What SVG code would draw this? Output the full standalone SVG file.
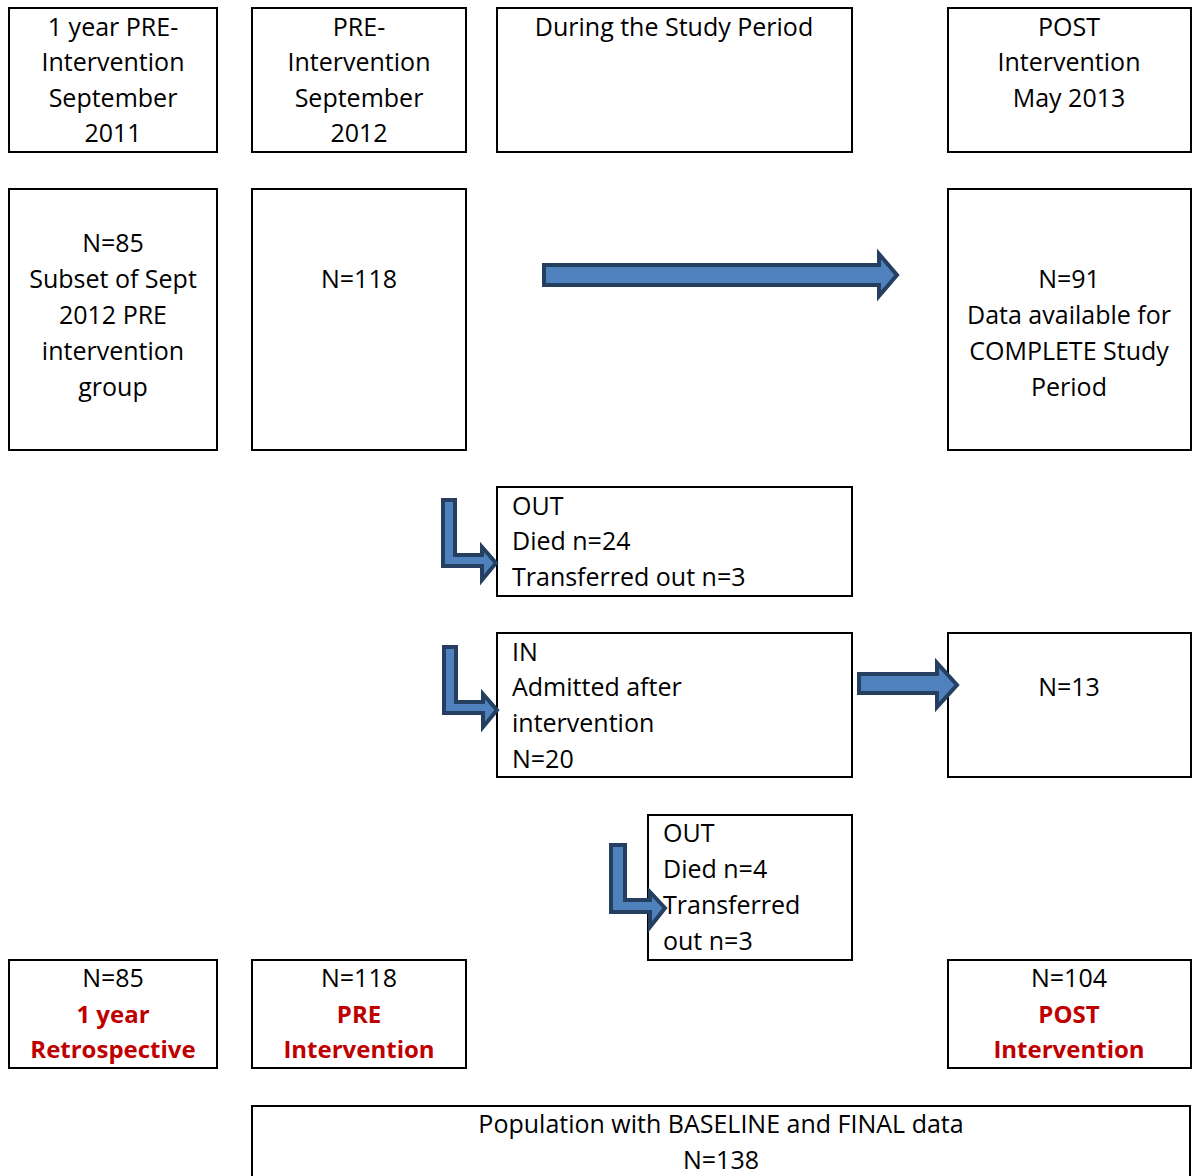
<svg xmlns="http://www.w3.org/2000/svg" width="1192" height="1176" viewBox="0 0 1192 1176">
<style>
.box{fill:#fff;stroke:#000;stroke-width:2}
text{font-family:"Open Sans","Liberation Sans",Arial,sans-serif;font-size:25px;fill:#000}
.c{text-anchor:middle}
.r{fill:#C00000;font-weight:bold;font-size:24px}
.arr{fill:#4F81BD;stroke:#243F60;stroke-width:4;stroke-linejoin:miter}
</style>
<rect width="1192" height="1176" fill="#fff"/>
<g id="h1"><rect class="box" x="9" y="8" width="208" height="144"/>
<text class="c" x="113" y="36">1 year PRE-</text><text class="c" x="113" y="71">Intervention</text><text class="c" x="113" y="107">September</text><text class="c" x="113" y="142">2011</text></g>
<g id="h2"><rect class="box" x="252" y="8" width="214" height="144"/>
<text class="c" x="359" y="36">PRE-</text><text class="c" x="359" y="71">Intervention</text><text class="c" x="359" y="107">September</text><text class="c" x="359" y="142">2012</text></g>
<g id="h3"><rect class="box" x="497" y="8" width="355" height="144"/>
<text class="c" x="674" y="36">During the Study Period</text></g>
<g id="h4"><rect class="box" x="948" y="8" width="243" height="144"/>
<text class="c" x="1069" y="36">POST</text><text class="c" x="1069" y="71">Intervention</text><text class="c" x="1069" y="107">May 2013</text></g>

<g id="n85"><rect class="box" x="9" y="189" width="208" height="261"/>
<text class="c" x="113" y="252">N=85</text><text class="c" x="113" y="288">Subset of Sept</text><text class="c" x="113" y="324">2012 PRE</text><text class="c" x="113" y="360">intervention</text><text class="c" x="113" y="396">group</text></g>
<g id="n118"><rect class="box" x="252" y="189" width="214" height="261"/>
<text class="c" x="359" y="288">N=118</text></g>
<g id="n91"><rect class="box" x="948" y="189" width="243" height="261"/>
<text class="c" x="1069" y="288">N=91</text><text class="c" x="1069" y="324">Data available for</text><text class="c" x="1069" y="360">COMPLETE Study</text><text class="c" x="1069" y="396">Period</text></g>

<g id="out1"><rect class="box" x="497" y="487" width="355" height="109"/>
<text x="512" y="515">OUT</text><text x="512" y="550">Died n=24</text><text x="512" y="586">Transferred out n=3</text></g>
<g id="in1"><rect class="box" x="497" y="633" width="355" height="144"/>
<text x="512" y="661">IN</text><text x="512" y="696">Admitted after</text><text x="512" y="732">intervention</text><text x="512" y="768">N=20</text></g>
<g id="n13"><rect class="box" x="948" y="633" width="243" height="144"/>
<text class="c" x="1069" y="696">N=13</text></g>
<g id="out2"><rect class="box" x="648" y="815" width="204" height="145"/>
<text x="663" y="842">OUT</text><text x="663" y="878">Died n=4</text><text x="663" y="914">Transferred</text><text x="663" y="950">out n=3</text></g>

<g id="r85"><rect class="box" x="9" y="960" width="208" height="108"/>
<text class="c" x="113" y="987">N=85</text><text class="c r" x="113" y="1023">1 year</text><text class="c r" x="113" y="1058">Retrospective</text></g>
<g id="r118"><rect class="box" x="252" y="960" width="214" height="108"/>
<text class="c" x="359" y="987">N=118</text><text class="c r" x="359" y="1023">PRE</text><text class="c r" x="359" y="1058">Intervention</text></g>
<g id="r104"><rect class="box" x="948" y="960" width="243" height="108"/>
<text class="c" x="1069" y="987">N=104</text><text class="c r" x="1069" y="1023">POST</text><text class="c r" x="1069" y="1058">Intervention</text></g>

<g id="total"><rect class="box" x="252" y="1106" width="938" height="80"/>
<text class="c" x="721" y="1133">Population with BASELINE and FINAL data</text><text class="c" x="721" y="1169">N=138</text></g>

<g id="connectors">
<path class="arr" d="M544,265 H879 V254 L897,275 L879,296 V285 H544 Z"/>
<path class="arr" d="M859,674 H937 V663 L957,685 L937,707 V693 H859 Z"/>
<path class="arr" d="M443,500 H455 V555 H482 V547 L496,563 L482,580 V566 H443 Z"/>
<path class="arr" transform="translate(1,147)" d="M443,500 H455 V555 H482 V547 L496,563 L482,580 V566 H443 Z"/>
<path class="arr" transform="translate(168,345)" d="M443,500 H457 V555 H482 V547 L497,563 L482,582 V567 H443 Z"/>
</g>
</svg>
